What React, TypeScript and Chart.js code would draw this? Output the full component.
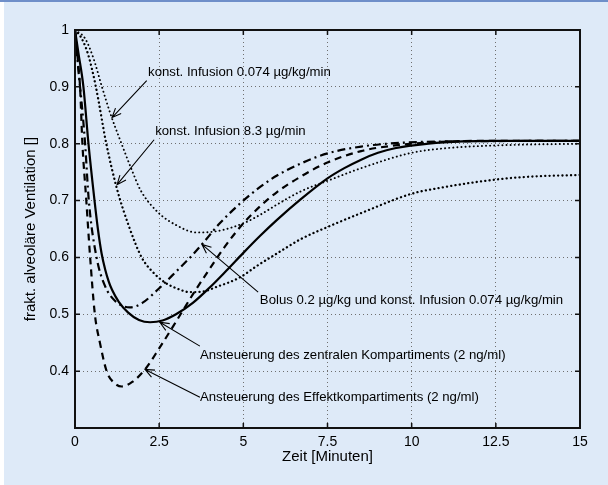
import React, { useEffect, useRef } from "react";
import { Chart, registerables } from "chart.js";

Chart.register(...registerables);

// ---- data (minutes, fractional alveolar ventilation) ----
const tCentral = [0, 0.1, 0.25, 0.4, 0.57, 0.68, 0.79, 0.9, 1.0, 1.1, 1.3, 1.58, 1.9, 2.23, 2.6, 3.0, 3.5, 4.0, 4.5, 5.0, 5.5, 6.0, 6.7, 7.5, 8.0, 8.5, 9.0, 9.5, 10.5, 11.5, 12.5, 15];
const vCentral = [1, 0.96, 0.9, 0.8, 0.705, 0.65, 0.607, 0.578, 0.558, 0.543, 0.522, 0.503, 0.49, 0.486, 0.489, 0.5, 0.52, 0.547, 0.577, 0.608, 0.638, 0.666, 0.702, 0.739, 0.757, 0.772, 0.784, 0.792, 0.8, 0.804, 0.805, 0.805];

const tEffect = [0, 0.08, 0.15, 0.22, 0.33, 0.45, 0.59, 0.74, 0.94, 1.15, 1.39, 1.7, 2.08, 2.5, 3.0, 3.5, 4.0, 4.5, 5.0, 5.5, 6.0, 6.7, 7.5, 8.5, 9.5, 10.5, 12, 15];
const vEffect = [1, 0.95, 0.9, 0.8, 0.705, 0.6, 0.5, 0.45, 0.4, 0.38, 0.373, 0.381, 0.403, 0.44, 0.487, 0.535, 0.58, 0.623, 0.66, 0.69, 0.715, 0.742, 0.767, 0.787, 0.797, 0.802, 0.805, 0.805];

const tBolus = [0, 0.1, 0.2, 0.3, 0.41, 0.64, 0.89, 1.2, 1.63, 2.0, 2.47, 3.0, 3.5, 3.77, 4.3, 5.0, 5.5, 6.0, 6.7, 7.5, 8.5, 9.5, 11, 15];
const vBolus = [1, 0.93, 0.87, 0.8, 0.7, 0.6, 0.55, 0.523, 0.512, 0.52, 0.544, 0.575, 0.605, 0.623, 0.66, 0.7, 0.724, 0.744, 0.765, 0.783, 0.795, 0.801, 0.804, 0.805];

const tInf074 = [0, 0.3, 0.55, 0.8, 1.05, 1.35, 1.7, 1.95, 2.47, 3.0, 3.6, 4.2, 5.0, 5.5, 6.0, 6.7, 7.6, 8.5, 10, 11, 12.5, 15];
const vInf074 = [1, 0.985, 0.95, 0.9, 0.853, 0.805, 0.752, 0.718, 0.679, 0.657, 0.644, 0.646, 0.66, 0.675, 0.693, 0.716, 0.737, 0.757, 0.784, 0.792, 0.797, 0.8];

const tInf83 = [0, 0.2, 0.4, 0.62, 0.93, 1.25, 1.6, 1.98, 2.3, 2.67, 3.0, 3.42, 3.8, 4.2, 4.9, 5.4, 6.0, 6.7, 7.6, 8.5, 10, 11, 12.5, 13.5, 15];
const vInf83 = [1, 0.985, 0.955, 0.9, 0.8, 0.72, 0.655, 0.6, 0.575, 0.556, 0.546, 0.539, 0.54, 0.548, 0.565, 0.585, 0.607, 0.632, 0.656, 0.678, 0.712, 0.724, 0.737, 0.742, 0.745];

const xMin = 0;
const xMax = 15;
const xStep = 2.5;
const yMin = 0.3;
const yMax = 1;
const yStep = 0.1;
const hiddenYLabels = [0.3];

const xTitle = "Zeit [Minuten]";
const yTitle = "frakt. alveoläre Ventilation []";

const labelTexts = [
  "konst. Infusion 0.074 µg/kg/min",
  "konst. Infusion 8.3 µg/min",
  "Bolus 0.2 µg/kg und konst. Infusion 0.074 µg/kg/min",
  "Ansteuerung des zentralen Kompartiments (2 ng/ml)",
  "Ansteuerung des Effektkompartiments (2 ng/ml)",
];
const labelAt = [[2.17, 0.925], [2.38, 0.821], [5.49, 0.525], [3.71, 0.428], [3.71, 0.353]];
const arrowFrom = [[2.13, 0.911], [2.35, 0.807], [5.44, 0.539], [3.71, 0.444], [3.71, 0.354]];
const arrowTo = [[1.1, 0.846], [1.25, 0.728], [3.77, 0.623], [2.52, 0.486], [2.08, 0.403]];

const pts = (t: number[], v: number[]) => t.map((x, i) => ({ x, y: v[i] }));
const fmt = (v: number) => String(+Number(v).toFixed(1));
const FONT = "'Liberation Sans', Arial, Helvetica, sans-serif";

const bgPlugin = {
  id: "bgPlugin",
  beforeDraw(chart: any) {
    const { ctx, width, height } = chart;
    ctx.save();
    ctx.fillStyle = "#deeaf8";
    ctx.fillRect(0, 0, width, height);
    ctx.fillStyle = "#ffffff";
    ctx.fillRect(0, 0, 4, height);
    ctx.fillStyle = "#6f8fc9";
    ctx.fillRect(0, 0, width, 2);
    ctx.restore();
  },
};

const framePlugin = {
  id: "framePlugin",
  afterDraw(chart: any) {
    const { ctx, chartArea: a, scales } = chart;
    const xs = scales.x;
    const ys = scales.y;
    ctx.save();
    // annotations
    ctx.strokeStyle = "#000";
    ctx.fillStyle = "#000";
    ctx.lineWidth = 1.1;
    ctx.font = `13.2px ${FONT}`;
    ctx.textBaseline = "middle";
    ctx.textAlign = "left";
    labelTexts.forEach((txt, i) => {
      ctx.fillText(txt, xs.getPixelForValue(labelAt[i][0]), ys.getPixelForValue(labelAt[i][1]));
      const x1 = xs.getPixelForValue(arrowFrom[i][0]);
      const y1 = ys.getPixelForValue(arrowFrom[i][1]);
      const x2 = xs.getPixelForValue(arrowTo[i][0]);
      const y2 = ys.getPixelForValue(arrowTo[i][1]);
      ctx.beginPath();
      ctx.moveTo(x1, y1);
      ctx.lineTo(x2, y2);
      const ang = Math.atan2(y2 - y1, x2 - x1);
      const len = 10;
      const spread = 0.4;
      ctx.moveTo(x2 - len * Math.cos(ang - spread), y2 - len * Math.sin(ang - spread));
      ctx.lineTo(x2, y2);
      ctx.lineTo(x2 - len * Math.cos(ang + spread), y2 - len * Math.sin(ang + spread));
      ctx.stroke();
    });
    // frame
    ctx.lineWidth = 2;
    ctx.strokeStyle = "#111";
    ctx.strokeRect(a.left, a.top, a.right - a.left, a.bottom - a.top);
    // inward ticks
    ctx.lineWidth = 1.5;
    const tl = 5;
    ctx.beginPath();
    xs.ticks.forEach((t: any) => {
      if (t.value <= xMin || t.value >= xMax) return;
      const px = xs.getPixelForValue(t.value);
      ctx.moveTo(px, a.bottom);
      ctx.lineTo(px, a.bottom - tl);
      ctx.moveTo(px, a.top);
      ctx.lineTo(px, a.top + tl);
    });
    ys.ticks.forEach((t: any) => {
      if (t.value <= yMin + 1e-9 || t.value >= yMax - 1e-9) return;
      const py = ys.getPixelForValue(t.value);
      ctx.moveTo(a.left, py);
      ctx.lineTo(a.left + tl, py);
      ctx.moveTo(a.right, py);
      ctx.lineTo(a.right - tl, py);
    });
    ctx.stroke();
    ctx.restore();
  },
};

export default function App() {
  const ref = useRef<HTMLCanvasElement | null>(null);

  useEffect(() => {
    if (!ref.current) return;
    const common = {
      pointRadius: 0,
      borderColor: "#000",
      backgroundColor: "#000",
      fill: false,
      cubicInterpolationMode: "monotone" as const,
    };
    const chart = new Chart(ref.current, {
      type: "line",
      data: {
        datasets: [
          { ...common, label: "Infusion 0.074", data: pts(tInf074, vInf074), borderWidth: 1.9, borderDash: [0.1, 4], borderCapStyle: "round" },
          { ...common, label: "Infusion 8.3", data: pts(tInf83, vInf83), borderWidth: 2.3, borderDash: [0.1, 4.2], borderCapStyle: "round" },
          { ...common, label: "Bolus", data: pts(tBolus, vBolus), borderWidth: 2.2, borderDash: [8, 4, 2, 4] },
          { ...common, label: "Effekt", data: pts(tEffect, vEffect), borderWidth: 2.2, borderDash: [7, 5] },
          { ...common, label: "Zentral", data: pts(tCentral, vCentral), borderWidth: 2.2 },
        ],
      } as any,
      options: {
        responsive: false,
        maintainAspectRatio: false,
        animation: false,
        devicePixelRatio: 1,
        layout: { padding: { left: 0, right: 28, top: 30, bottom: 0 } },
        plugins: { legend: { display: false }, tooltip: { enabled: false } },
        scales: {
          x: {
            type: "linear",
            min: xMin,
            max: xMax,
            afterFit: (s: any) => { s.height = 57; },
            ticks: { stepSize: xStep, callback: (v: any) => fmt(v), color: "#000", font: { family: FONT, size: 14 }, padding: 6, maxRotation: 0, autoSkip: false },
            grid: {
              drawTicks: false,
              lineWidth: 1,
              color: (c: any) => (c.tick && (c.tick.value <= xMin || c.tick.value >= xMax) ? "rgba(0,0,0,0)" : "#6f6f6f"),
            },
            border: { display: false, dash: [1, 3] },
            title: { display: true, text: xTitle, color: "#000", font: { family: FONT, size: 15 }, padding: { top: 0, bottom: 19 } },
          },
          y: {
            type: "linear",
            min: yMin,
            max: yMax,
            afterFit: (s: any) => { s.width = 75; },
            ticks: {
              stepSize: yStep,
              callback: (v: any) => (hiddenYLabels.some((h) => Math.abs(h - v) < 1e-9) ? "" : fmt(v)),
              color: "#000",
              font: { family: FONT, size: 14 },
              padding: 6,
            },
            grid: {
              drawTicks: false,
              lineWidth: 1,
              color: (c: any) => (c.tick && (c.tick.value <= yMin + 1e-9 || c.tick.value >= yMax - 1e-9) ? "rgba(0,0,0,0)" : "#6f6f6f"),
            },
            border: { display: false, dash: [1, 3] },
            title: { display: true, text: yTitle, color: "#000", font: { family: FONT, size: 15 }, padding: { top: 22, bottom: 0 } },
          },
        },
      } as any,
      plugins: [bgPlugin, framePlugin],
    });
    return () => chart.destroy();
  }, []);

  return (
    <div style={{ position: "fixed", left: 0, top: 0, width: 608, height: 485 }}>
      <canvas ref={ref} width={608} height={485} style={{ display: "block", width: 608, height: 485 }} />
    </div>
  );
}
